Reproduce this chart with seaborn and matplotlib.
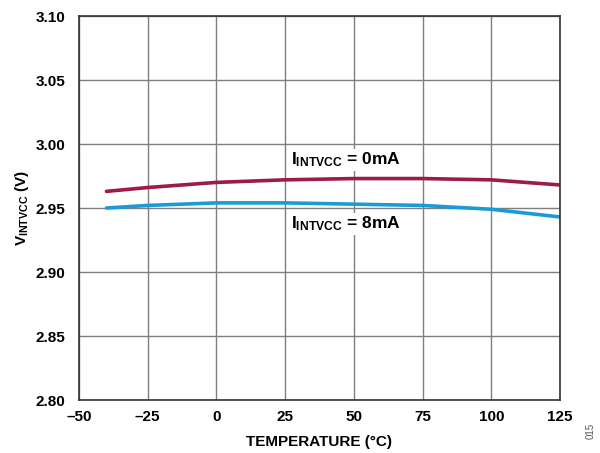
import matplotlib
matplotlib.use("Agg")
import matplotlib.pyplot as plt
import seaborn as sns
import pandas as pd

temps = [-40, -25, 0, 25, 50, 75, 100, 125]
v_0ma = [2.963, 2.966, 2.970, 2.972, 2.973, 2.973, 2.972, 2.968]
v_8ma = [2.950, 2.952, 2.954, 2.954, 2.953, 2.952, 2.949, 2.943]
x_ticks = [-50, -25, 0, 25, 50, 75, 100, 125]
y_ticks = [2.80, 2.85, 2.90, 2.95, 3.00, 3.05, 3.10]

sns.set_theme(style="white")
plt.rcParams['font.family'] = ['Liberation Sans', 'DejaVu Sans']
plt.rcParams['font.weight'] = 'bold'
plt.rcParams['text.color'] = 'black'
plt.rcParams['axes.labelcolor'] = 'black'
plt.rcParams['mathtext.fontset'] = 'custom'
plt.rcParams['mathtext.rm'] = 'Liberation Sans:bold'
plt.rcParams['mathtext.bf'] = 'Liberation Sans:bold'
plt.rcParams['mathtext.it'] = 'Liberation Sans:bold'

df = pd.DataFrame({"T": temps * 2,
                   "V": v_0ma + v_8ma,
                   "s": ["0mA"] * len(temps) + ["8mA"] * len(temps)})

fig = plt.figure(figsize=(6.0, 4.53), dpi=100)
ax = fig.add_axes([79/600, 1 - 400/453, (560-79)/600, (400-16)/453])
sns.lineplot(data=df, x="T", y="V", hue="s", palette={"0mA": "#9C1C46", "8mA": "#1A9BD7"},
             linewidth=2.6, legend=False, ax=ax)

ax.set_xlim(-50, 125)
ax.set_ylim(2.80, 3.10)
ax.set_xticks(x_ticks)
ax.set_xticklabels([f"{t}".replace("-", "\u2013") for t in x_ticks])
ax.set_yticks(y_ticks)
ax.set_yticklabels([f"{v:.2f}" for v in y_ticks])
ax.grid(True, color="#7f7f7f", linewidth=1.0)
for sp in ax.spines.values():
    sp.set_color("#333333")
    sp.set_linewidth(1.2)
ax.tick_params(axis="x", length=0, labelsize=11, pad=7, colors="black")
ax.tick_params(axis="y", length=0, labelsize=11, pad=10, colors="black")
for lab in ax.get_xticklabels() + ax.get_yticklabels():
    lab.set_fontweight("bold")

ax.set_xlabel("TEMPERATURE (°C)", fontsize=11, fontweight="bold", labelpad=8)
ax.set_ylabel(r"V$_{\mathrm{INTVCC}}$ (V)", fontsize=11, fontweight="bold", labelpad=3)

box = dict(facecolor="white", edgecolor="none", pad=1)
ax.text(27, 2.9875, r"I$_{\mathrm{INTVCC}}$ = 0mA", fontsize=12.5, fontweight="bold",
        ha="left", va="center", bbox=box)
ax.text(27, 2.9375, r"I$_{\mathrm{INTVCC}}$ = 8mA", fontsize=12.5, fontweight="bold",
        ha="left", va="center", bbox=box)

fig.text(0.985, 0.03, "015", rotation=90, fontsize=7, color="#555555",
         fontweight="normal", ha="center", va="bottom")

fig.savefig("out.png", dpi=100)
